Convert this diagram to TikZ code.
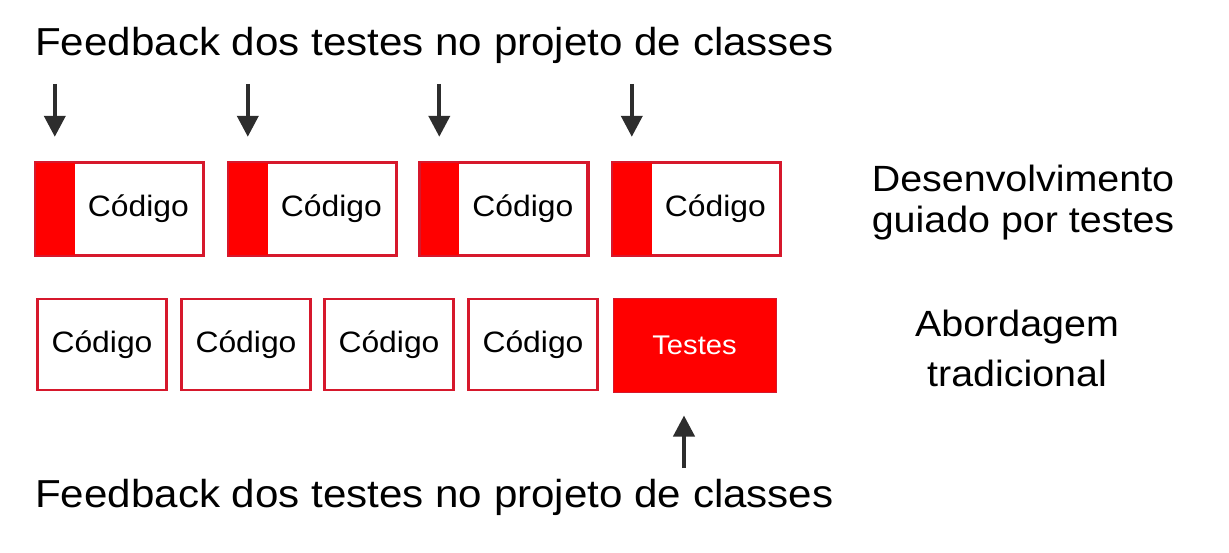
\documentclass[tikz,border=0pt]{standalone}
\usepackage{fontspec}
\setmainfont{Liberation Sans}[FakeStretch=1.08]
\usetikzlibrary{arrows.meta}
\definecolor{boxred}{RGB}{255,0,0}
\definecolor{edgered}{RGB}{214,24,44}
\definecolor{arrowgray}{RGB}{45,45,45}
\tikzset{
  cbox/.style={draw=edgered, line width=2.4pt, fill=white, minimum width=167pt, minimum height=92pt, inner sep=0pt},
  sbox/.style={draw=edgered, line width=2.4pt, fill=white, minimum width=129pt, minimum height=91pt, inner sep=0pt,
    font=\fontsize{29.5}{34}\selectfont},
  tbox/.style={draw=edgered, line width=1pt, fill=boxred, minimum width=163pt, minimum height=94pt, inner sep=0pt,
    text=white, font=\fontsize{27}{32}\selectfont},
  codetext/.style={inner sep=0pt, font=\fontsize{29.5}{34}\selectfont},
  bigtext/.style={inner sep=0pt, font=\fontsize{39}{46}\selectfont},
  arr/.style={draw=arrowgray, line width=4pt, -{Triangle[width=21pt,length=21pt]}}
}
\begin{document}
\begin{tikzpicture}[x=1pt,y=-1pt]
\useasboundingbox (0,0) rectangle (1229,552);
% top label
\node[bigtext, anchor=base west] (toplab) at (35,55) {Feedback dos testes no projeto de classes};
% top row boxes
\foreach \i/\cx in {1/119.5, 2/312.5, 3/504, 4/696.5}{
  \node[cbox] (c\i) at (\cx,209) {};
  \fill[boxred] (c\i.north west) rectangle ([xshift=40pt]c\i.south west);
  \draw[edgered, line width=2.4pt] (c\i.north west) rectangle (c\i.south east);
  \node[codetext] (ct\i) at ([xshift=103.5pt]c\i.west) {Código};
  \coordinate (t\i) at ([xshift=20pt, yshift=78pt]c\i.north west);
  \draw[arr, shorten >=25pt] (t\i) -- (t\i |- c\i.north);
}
% right labels
\node[bigtext, anchor=base, align=center, font=\fontsize{36.5}{41}\selectfont] (tddlab) at (1023,232) {Desenvolvimento\\guiado por testes};
\node[bigtext, anchor=base, align=center, font=\fontsize{36.5}{50}\selectfont] (tradlab) at (1017,386) {Abordagem\\tradicional};
% bottom row
\foreach \i/\cx in {1/102, 2/246, 3/389, 4/533}{
  \node[sbox] (s\i) at (\cx,344.5) {Código};
}
\node[tbox] (testes) at (694.5,345) {Testes};
% bottom label
\node[bigtext, anchor=base west] (botlab) at (35,507) {Feedback dos testes no projeto de classes};
\coordinate (bt) at (684,468);
\draw[arr, shorten >=23pt] (bt) -- (bt |- testes.south);
\end{tikzpicture}
\end{document}
